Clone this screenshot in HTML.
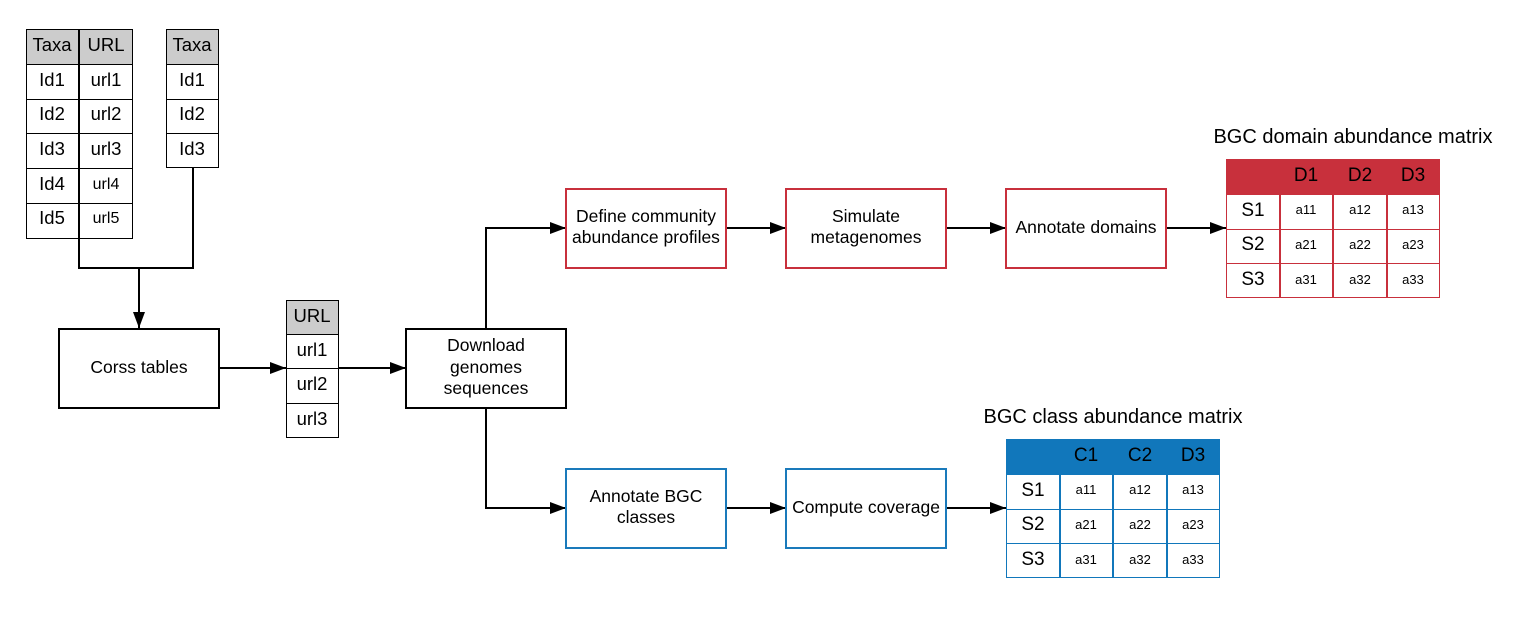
<!DOCTYPE html>
<html><head><meta charset="utf-8"><style>
html,body{margin:0;padding:0;background:#fff;}
svg{display:block;font-family:"Liberation Sans",Arial,sans-serif;}
</style></head><body>
<svg width="1521" height="627" viewBox="0 0 1521 627" xmlns="http://www.w3.org/2000/svg">
<defs>
<marker id="a" markerWidth="16" markerHeight="12" refX="16" refY="6" orient="auto" markerUnits="userSpaceOnUse">
<path d="M0,0 L16,6 L0,12 Z" fill="#000"/></marker>
</defs>
<g fill="none" stroke="#000" stroke-width="2">
<path d="M79,239 V268 H193 V168"/>
<path d="M139,268 V328" marker-end="url(#a)"/>
<path d="M219,368 H286" marker-end="url(#a)"/>
<path d="M339,368 H406" marker-end="url(#a)"/>
<path d="M486,328 V228 H566" marker-end="url(#a)"/>
<path d="M486,408 V508 H566" marker-end="url(#a)"/>
<path d="M726,228 H786" marker-end="url(#a)"/>
<path d="M946,228 H1006" marker-end="url(#a)"/>
<path d="M1166,228 H1226" marker-end="url(#a)"/>
<path d="M726,508 H786" marker-end="url(#a)"/>
<path d="M946,508 H1006" marker-end="url(#a)"/>
</g>
<rect x="26" y="29" width="107" height="35" fill="#cccccc"/>
<rect x="166" y="29" width="53" height="35" fill="#cccccc"/>
<rect x="286" y="300" width="53" height="34" fill="#cccccc"/>
<g fill="none" stroke="#000" stroke-width="1">
<rect x="26.5" y="29.5" width="106" height="209"/>
<path d="M26,64.5H133M26,99.5H133M26,133.5H133M26,168.5H133M26,203.5H133"/>
<rect x="166.5" y="29.5" width="52" height="138"/>
<path d="M166,64.5H219M166,99.5H219M166,133.5H219"/>
<rect x="286.5" y="300.5" width="52" height="137"/>
<path d="M286,334.5H339M286,368.5H339M286,403.5H339"/>
</g>
<path d="M79,29V239" stroke="#000" stroke-width="2"/>
<g font-size="18.5" text-anchor="middle" fill="#000">
<text x="52" y="51">Taxa</text><text x="106" y="51">URL</text>
<text x="52" y="86">Id1</text><text x="106" y="86">url1</text>
<text x="52" y="120">Id2</text><text x="106" y="120">url2</text>
<text x="52" y="155">Id3</text><text x="106" y="155">url3</text>
<text x="52" y="190">Id4</text><text x="106" y="189" font-size="16">url4</text>
<text x="52" y="224">Id5</text><text x="106" y="223" font-size="16">url5</text>
<text x="192" y="51">Taxa</text>
<text x="192" y="86">Id1</text><text x="192" y="120">Id2</text><text x="192" y="155">Id3</text>
<text x="312" y="322">URL</text>
<text x="312" y="356">url1</text><text x="312" y="390">url2</text><text x="312" y="425">url3</text>
</g>
<g fill="#fff" stroke-width="2">
<rect x="59" y="329" width="160" height="79" stroke="#000"/>
<rect x="406" y="329" width="160" height="79" stroke="#000"/>
<rect x="566" y="189" width="160" height="79" stroke="#c8303c"/>
<rect x="786" y="189" width="160" height="79" stroke="#c8303c"/>
<rect x="1006" y="189" width="160" height="79" stroke="#c8303c"/>
<rect x="566" y="469" width="160" height="79" stroke="#1a7abb"/>
<rect x="786" y="469" width="160" height="79" stroke="#1a7abb"/>
</g>
<g font-size="17.5" text-anchor="middle" fill="#000">
<text x="139" y="373">Corss tables</text>
<text x="486" y="351">Download</text><text x="486" y="373">genomes</text><text x="486" y="394">sequences</text>
<text x="646" y="222">Define community</text><text x="646" y="243">abundance profiles</text>
<text x="866" y="222">Simulate</text><text x="866" y="243">metagenomes</text>
<text x="1086" y="233">Annotate domains</text>
<text x="646" y="502">Annotate BGC</text><text x="646" y="523">classes</text>
<text x="866" y="513">Compute coverage</text>
</g>
<text x="1353" y="143" font-size="20" text-anchor="middle">BGC domain abundance matrix</text>
<rect x="1226" y="159" width="214" height="36" fill="#c8303c"/>
<g fill="none" stroke="#c8303c" stroke-width="1">
<rect x="1226.5" y="159.5" width="213" height="138"/>
<path d="M1226,229.5H1440M1226,263.5H1440"/>
</g>
<path d="M1280,195V298M1333,195V298M1387,195V298" stroke="#c8303c" stroke-width="2"/>
<g text-anchor="middle" fill="#000">
<g font-size="19"><text x="1306" y="181">D1</text><text x="1360" y="181">D2</text><text x="1413" y="181">D3</text>
<text x="1253" y="216">S1</text><text x="1253" y="250">S2</text><text x="1253" y="285">S3</text></g>
<g font-size="13"><text x="1306" y="214">a11</text><text x="1360" y="214">a12</text><text x="1413" y="214">a13</text>
<text x="1306" y="249">a21</text><text x="1360" y="249">a22</text><text x="1413" y="249">a23</text>
<text x="1306" y="284">a31</text><text x="1360" y="284">a32</text><text x="1413" y="284">a33</text></g>
</g>
<text x="1113" y="423" font-size="20" text-anchor="middle">BGC class abundance matrix</text>
<rect x="1006" y="439" width="214" height="36" fill="#1177bb"/>
<g fill="none" stroke="#1177bb" stroke-width="1">
<rect x="1006.5" y="439.5" width="213" height="138"/>
<path d="M1006,509.5H1220M1006,543.5H1220"/>
</g>
<path d="M1060,475V578M1113,475V578M1167,475V578" stroke="#1177bb" stroke-width="2"/>
<g text-anchor="middle" fill="#000">
<g font-size="19"><text x="1086" y="461">C1</text><text x="1140" y="461">C2</text><text x="1193" y="461">D3</text>
<text x="1033" y="496">S1</text><text x="1033" y="530">S2</text><text x="1033" y="565">S3</text></g>
<g font-size="13"><text x="1086" y="494">a11</text><text x="1140" y="494">a12</text><text x="1193" y="494">a13</text>
<text x="1086" y="529">a21</text><text x="1140" y="529">a22</text><text x="1193" y="529">a23</text>
<text x="1086" y="564">a31</text><text x="1140" y="564">a32</text><text x="1193" y="564">a33</text></g>
</g>
</svg>
</body></html>
